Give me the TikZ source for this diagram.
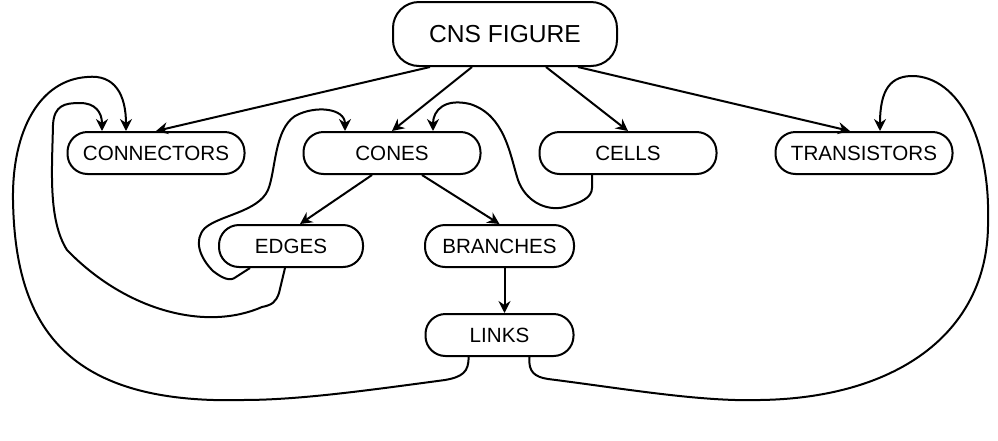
\documentclass[tikz,border=0pt]{standalone}
\usepackage{fontspec}
\setmainfont{Liberation Sans}
\usetikzlibrary{positioning, arrows.meta}

\begin{document}
\begin{tikzpicture}[x=0.5pt, y=-0.5pt, node distance=28.5pt, line width=1pt]
    \tikzstyle{box} = [rectangle, draw, rounded corners=10pt, inner sep=2pt,
        minimum width=88.5pt, minimum height=21pt, font=\fontsize{10.3}{12}\selectfont]
    \tikzstyle{title} = [box, minimum width=112pt, minimum height=32pt,
        rounded corners=13pt, font=\fontsize{12.3}{14}\selectfont]
    \tikzstyle{line} = [draw, -{Stealth[length=6pt, width=6pt, inset=2pt]}]

    \useasboundingbox (0,0) rectangle (998,440);

    \node [title] (cns) at (505,34) {CNS FIGURE};
    \node [box] (connectors) at (156,153) {CONNECTORS};
    \node [box, right=of connectors] (cones) {CONES};
    \node [box, right=of cones] (cells) {CELLS};
    \node [box, right=of cells] (transistors) {TRANSISTORS};
    \node [box, minimum width=72pt] (edges) at (291,246) {EDGES};
    \node [box, minimum width=74.5pt, right=30pt of edges] (branches) {BRANCHES};
    \node [box, minimum width=74pt, below=22.5pt of branches] (links) {LINKS};

    % tree edges
    \path [line] ([xshift=-37.5pt]cns.south) -- (connectors.north);
    \path [line] ([xshift=-16.5pt]cns.south) -- (cones.north);
    \path [line] ([xshift=20.5pt]cns.south) -- (cells.north);
    \path [line] ([xshift=36.5pt]cns.south) -- ([xshift=-7pt]transistors.north);
    \path [line] ([xshift=-10pt]cones.south) -- ([xshift=4.5pt]edges.north);
    \path [line] ([xshift=15pt]cones.south) -- (branches.north);
    \path [line] ([xshift=2.5pt]branches.south) -- ([xshift=2.5pt]links.north);

    % back links
    \path [line] ([xshift=-15.5pt]links.south) .. controls (469,372) and (462,377) .. (445,380)
        .. controls (370,390) and (300,400) .. (243,400)
        .. controls (60,405) and (15,320) .. (13,200)
        .. controls (12,130) and (40,80) .. (87,77)
        .. controls (115,74) and (126,95) .. ([xshift=-15pt]connectors.north);
    \path [line] ([xshift=-3pt]edges.south) -- (279,293)
        .. controls (276,302) and (272,305) .. (262,307)
        .. controls (205,332) and (125,310) .. (67,250)
        .. controls (48,220) and (52,170) .. (53,125)
        .. controls (54,105) and (65,103) .. (80,103)
        .. controls (95,103) and (102,112) .. ([xshift=-27pt]connectors.north);
    \path [line] ([xshift=-20.5pt]edges.south) -- (236,277)
        .. controls (230,282) and (222,278) .. (213,271)
        .. controls (200,258) and (193,240) .. (205,228)
        .. controls (220,215) and (258,212) .. (268,190)
        .. controls (276,170) and (274,130) .. (295,116)
        .. controls (315,105) and (345,108) .. ([xshift=-23.5pt]cones.north);
    \path [line] ([xshift=-18pt]cells.south) -- (592,188)
        .. controls (592,198) and (580,203) .. (565,207)
        .. controls (545,212) and (525,200) .. (518,180)
        .. controls (510,155) and (505,115) .. (470,104)
        .. controls (445,98) and (433,110) .. ([xshift=20.5pt]cones.north);
    \path [line] ([xshift=15pt]links.south) .. controls (528,372) and (535,377) .. (548,379)
        .. controls (620,388) and (700,402) .. (760,400)
        .. controls (900,398) and (990,330) .. (988,220)
        .. controls (990,150) and (965,80) .. (915,76)
        .. controls (890,75) and (880,90) .. ([xshift=8pt]transistors.north);
\end{tikzpicture}
\end{document}
